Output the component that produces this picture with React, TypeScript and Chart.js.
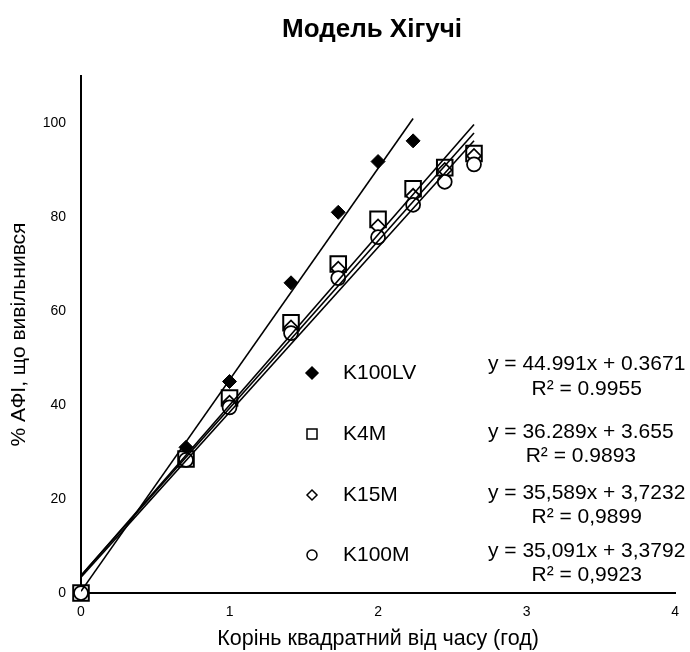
import { useEffect, useRef } from "react";
import { Chart, registerables } from "chart.js";

Chart.register(...registerables);

const TITLE = "Модель Хігучі";
const X_TITLE = "Корінь квадратний від часу (год)";
const Y_TITLE = "% АФІ, що вивільнився";

const SERIES_NAMES = ["K100LV", "K4M", "K15M", "K100M"];
const X_VALUES = [0, 0.707, 1, 1.414, 1.732, 2, 2.236, 2.449, 2.646];
const K100LV = [0, 31, 45, 66, 81, 91.8, 96.2];
const K4M = [0, 28.5, 41.5, 57.5, 70, 79.5, 86, 90.5, 93.5];
const K15M = [0, 28.5, 40.5, 56.5, 69, 78, 84.5, 90, 93];
const K100M = [0, 28.3, 39.5, 55.3, 67, 75.7, 82.6, 87.5, 91.2];

const SLOPES = [44.991, 36.289, 35.589, 35.091];
const INTERCEPTS = [0.3671, 3.655, 3.7232, 3.3792];
const EQUATIONS = [
  "y = 44.991x + 0.3671",
  "y = 36.289x + 3.655",
  "y = 35,589x + 3,7232",
  "y = 35,091x + 3,3792",
];
const R2_LABELS = ["R² = 0.9955", "R² = 0.9893", "R² = 0,9899", "R² = 0,9923"];

const X_TICKS = [0, 1, 2, 3, 4];
const Y_TICKS = [0, 20, 40, 60, 80, 100];
const X_MIN = 0;
const X_MAX = 4;
const Y_MIN = 0;
const Y_MAX = 110;

const FONT = '"Liberation Sans", Arial, sans-serif';

const SERIES = [K100LV, K4M, K15M, K100M];
const MARKERS = [
  { style: "rectRot", radius: 7, bg: "#000", bw: 1 },
  { style: "rect", radius: 11, bg: "#fff", bw: 2 },
  { style: "rectRot", radius: 7, bg: "#fff", bw: 1.75 },
  { style: "circle", radius: 7, bg: "#fff", bw: 1.75 },
];

function drawMarker(ctx: CanvasRenderingContext2D, kind: number, x: number, y: number) {
  ctx.save();
  ctx.strokeStyle = "#000";
  ctx.lineWidth = 1.5;
  ctx.beginPath();
  if (kind === 0) {
    ctx.moveTo(x, y - 6);
    ctx.lineTo(x + 6, y);
    ctx.lineTo(x, y + 6);
    ctx.lineTo(x - 6, y);
    ctx.closePath();
    ctx.fillStyle = "#000";
    ctx.fill();
    ctx.stroke();
  } else if (kind === 1) {
    ctx.rect(x - 5, y - 5, 10, 10);
    ctx.stroke();
  } else if (kind === 2) {
    ctx.moveTo(x, y - 5);
    ctx.lineTo(x + 5, y);
    ctx.lineTo(x, y + 5);
    ctx.lineTo(x - 5, y);
    ctx.closePath();
    ctx.stroke();
  } else {
    ctx.arc(x, y, 5, 0, Math.PI * 2);
    ctx.stroke();
  }
  ctx.restore();
}

const LEGEND_MARKER_X = 312;
const LEGEND_TEXT_X = 343;
const LEGEND_Y = [373, 434, 495, 555];
const EQ_LEFT = 488;
const EQ_Y = [364, 432, 493, 551];
const R2_Y = [389, 456, 517, 575];

const annotationPlugin = {
  id: "annotations",
  afterDraw(chart: Chart) {
    const ctx = chart.ctx;
    ctx.save();
    ctx.fillStyle = "#000";
    // title
    ctx.font = `bold 26px ${FONT}`;
    ctx.textAlign = "center";
    ctx.textBaseline = "alphabetic";
    ctx.fillText(TITLE, 372, 37);
    // legend
    ctx.font = `21px ${FONT}`;
    ctx.textBaseline = "middle";
    SERIES_NAMES.forEach((name, i) => {
      drawMarker(ctx, i, LEGEND_MARKER_X, LEGEND_Y[i]);
      ctx.fillStyle = "#000";
      ctx.textAlign = "left";
      ctx.fillText(name, LEGEND_TEXT_X, LEGEND_Y[i]);
    });
    // equations
    EQUATIONS.forEach((eq, i) => {
      const w = ctx.measureText(eq).width;
      const cx = EQ_LEFT + w / 2;
      ctx.textAlign = "center";
      ctx.fillText(eq, cx, EQ_Y[i]);
      ctx.fillText(R2_LABELS[i], cx, R2_Y[i]);
    });
    ctx.restore();
  },
};

export default function App() {
  const ref = useRef<HTMLCanvasElement>(null);
  useEffect(() => {
    if (!ref.current) return;
    const trendDatasets = SERIES.map((s, i) => {
      const xEnd = X_VALUES[s.length - 1];
      return {
        type: "scatter" as const,
        label: SERIES_NAMES[i] + " trend",
        data: [
          { x: 0, y: INTERCEPTS[i] },
          { x: xEnd, y: SLOPES[i] * xEnd + INTERCEPTS[i] },
        ],
        showLine: true,
        borderColor: "#000",
        borderWidth: 1.6,
        pointRadius: 0,
        order: i,
      };
    });
    const markerDatasets = SERIES.map((s, i) => ({
      type: "scatter" as const,
      label: SERIES_NAMES[i],
      data: s.map((v, j) => ({ x: X_VALUES[j], y: v })),
      showLine: false,
      pointStyle: MARKERS[i].style,
      pointRadius: MARKERS[i].radius,
      pointBackgroundColor: MARKERS[i].bg,
      pointBorderColor: "#000",
      pointBorderWidth: MARKERS[i].bw,
      clip: false,
      order: 10 - i,
    }));
    const chart = new Chart(ref.current, {
      type: "scatter",
      data: { datasets: [...trendDatasets, ...markerDatasets] as any },
      options: {
        animation: false,
        responsive: false,
        events: [],
        layout: { padding: { top: 76, right: 13, left: 0, bottom: 0 } },
        plugins: {
          legend: { display: false },
          tooltip: { enabled: false },
          title: { display: false },
        },
        scales: {
          x: {
            type: "linear",
            position: "bottom",
            min: X_MIN,
            max: X_MAX,
            afterBuildTicks: (scale: any) => {
              scale.ticks = X_TICKS.map((v) => ({ value: v }));
            },
            afterFit: (scale: any) => {
              scale.height = 59;
            },
            grid: { display: false, drawTicks: false },
            border: { display: true, color: "#000", width: 2 },
            ticks: {
              color: "#000",
              padding: 11,
              font: { family: FONT, size: 14 },
            },
            title: {
              display: true,
              text: X_TITLE,
              color: "#000",
              font: { family: FONT, size: 21.5 },
              padding: { top: 0, bottom: 0 },
            },
          },
          y: {
            type: "linear",
            min: Y_MIN,
            max: Y_MAX,
            afterBuildTicks: (scale: any) => {
              scale.ticks = Y_TICKS.map((v) => ({ value: v }));
            },
            afterFit: (scale: any) => {
              scale.width = 81;
            },
            grid: { display: false, drawTicks: false },
            border: { display: true, color: "#000", width: 2 },
            ticks: {
              color: "#000",
              padding: 15,
              font: { family: FONT, size: 14 },
            },
            title: {
              display: true,
              text: Y_TITLE,
              color: "#000",
              font: { family: FONT, size: 21 },
              padding: { top: 7, bottom: 0 },
            },
          },
        },
      },
      plugins: [annotationPlugin],
    });
    return () => chart.destroy();
  }, []);
  return (
    <div
      style={{
        position: "fixed",
        left: 0,
        top: 0,
        width: 690,
        height: 652,
        background: "#fff",
      }}
    >
      <canvas ref={ref} width={690} height={652} style={{ display: "block" }} />
    </div>
  );
}
